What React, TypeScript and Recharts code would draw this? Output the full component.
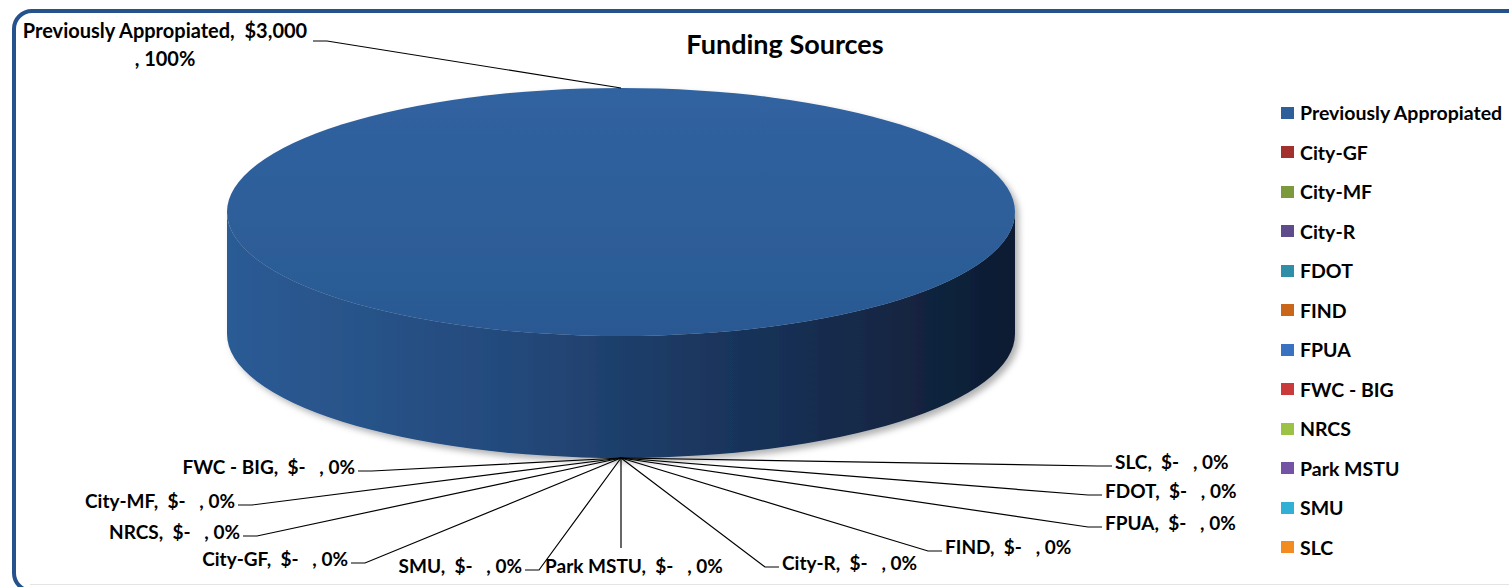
import React from "react";
import { Legend, Pie, PieChart } from "recharts";

// page has an 8px body margin by default; the chart fills the whole window
if (typeof document !== "undefined") document.body.style.margin = "0";

const sources = [
  "Previously Appropiated",
  "City-GF",
  "City-MF",
  "City-R",
  "FDOT",
  "FIND",
  "FPUA",
  "FWC - BIG",
  "NRCS",
  "Park MSTU",
  "SMU",
  "SLC",
];
const amounts = [3000, 0, 0, 0, 0, 0, 0, 0, 0, 0, 0, 0];
const sliceColors = [
  "#2f5f9a",
  "#a3302d",
  "#7b9a3b",
  "#5f4a8c",
  "#2f8ea8",
  "#c9661a",
  "#3a72c2",
  "#c93a3a",
  "#9bc244",
  "#7453a4",
  "#2fb0d4",
  "#f28c22",
];

// Excel's auto label layout: text anchor + where the leader meets it
const labelSpots = [
  { tx: 165, ty: 30, anchor: "middle", lx: 313, ly: 41 },
  { tx: 348, ty: 558, anchor: "end", lx: 351, ly: 563 },
  { tx: 235, ty: 500, anchor: "end", lx: 238, ly: 505 },
  { tx: 782, ty: 562, anchor: "start", lx: 779, ly: 567 },
  { tx: 1105, ty: 490, anchor: "start", lx: 1102, ly: 495 },
  { tx: 945, ty: 546, anchor: "start", lx: 942, ly: 551 },
  { tx: 1105, ty: 522, anchor: "start", lx: 1102, ly: 527 },
  { tx: 355, ty: 466, anchor: "end", lx: 358, ly: 471 },
  { tx: 240, ty: 531, anchor: "end", lx: 243, ly: 536 },
  { tx: 634, ty: 565, anchor: "middle", lx: 621, ly: 548 },
  { tx: 522, ty: 565, anchor: "end", lx: 525, ly: 570 },
  { tx: 1115, ty: 461, anchor: "start", lx: 1112, ly: 466 },
];

const data = sources.map((name, i) => ({ name, value: amounts[i], fill: sliceColors[i] }));

const W = 1509;
const H = 587;
const CX = 621;
const CY = 212;
const RADIUS = 394;
const TILT = 124 / 394; // vertical squash of the 3-D view
const DEPTH = 122; // thickness of the disc
const FONT = "Lato, 'Open Sans', sans-serif";

const money = (v: number) => (v === 0 ? "$-   " : "$" + v.toLocaleString("en-US"));

function Slice3D(props: any) {
  const { cx, cy, outerRadius: r, startAngle, endAngle, fill } = props;
  const span = Math.abs(endAngle - startAngle);
  if (span < 0.01) return <g />;
  const ry = r * TILT;
  const defs = (
    <defs>
      <linearGradient id="sideShade" x1="0" y1="0" x2="1" y2="0">
        <stop offset="0%" stopColor="#2c5b95" />
        <stop offset="35%" stopColor="#244a7c" />
        <stop offset="65%" stopColor="#19335a" />
        <stop offset="100%" stopColor="#0e1c31" />
      </linearGradient>
      <linearGradient id="topShade" x1="0" y1="0" x2="0" y2="1">
        <stop offset="0%" stopColor="#3063a1" />
        <stop offset="100%" stopColor="#2b5992" />
      </linearGradient>
      <filter id="pieShadow" x="-10%" y="-10%" width="125%" height="130%">
        <feDropShadow dx="4" dy="4" stdDeviation="3" floodColor="#000" floodOpacity="0.3" />
      </filter>
    </defs>
  );
  if (span >= 359.99) {
    const side =
      `M ${cx - r} ${cy} A ${r} ${ry} 0 0 0 ${cx + r} ${cy} ` +
      `L ${cx + r} ${cy + DEPTH} A ${r} ${ry} 0 0 1 ${cx - r} ${cy + DEPTH} Z`;
    return (
      <g>
        {defs}
        <g filter="url(#pieShadow)">
          <path d={side} fill="url(#sideShade)" />
          <ellipse cx={cx} cy={cy} rx={r} ry={ry} fill="url(#topShade)" />
        </g>
      </g>
    );
  }
  // a partial wedge: flat top face only
  const pt = (a: number) => {
    const rad = (a * Math.PI) / 180;
    return [cx + r * Math.cos(rad), cy - ry * Math.sin(rad)];
  };
  const [x1, y1] = pt(startAngle);
  const [x2, y2] = pt(endAngle);
  const large = span > 180 ? 1 : 0;
  const sweep = endAngle < startAngle ? 1 : 0;
  return (
    <path
      d={`M ${cx} ${cy} L ${x1} ${y1} A ${r} ${ry} 0 ${large} ${sweep} ${x2} ${y2} Z`}
      fill={fill}
    />
  );
}

function SliceLabel(props: any) {
  const { cx, cy, outerRadius: r, midAngle, index, name, value, percent } = props;
  const spot = labelSpots[index];
  if (!spot) return null;
  const rad = (midAngle * Math.PI) / 180;
  const px = cx + r * Math.cos(rad);
  let py = cy - r * TILT * Math.sin(rad);
  if (Math.sin(rad) < 0) py += DEPTH; // front of the disc: leader starts at the bottom rim
  const pct = `${Math.round((percent ?? 0) * 100)}%`;
  let pts = `${px},${py} ${spot.lx},${spot.ly}`;
  if (spot.anchor !== "middle" || index === 0) {
    const dir = px > spot.lx ? 1 : -1;
    pts = `${px},${py} ${spot.lx + 14 * dir},${spot.ly} ${spot.lx},${spot.ly}`;
  }
  const textStyle = {
    fontFamily: FONT,
    fontWeight: 700,
    fontSize: 19,
    fill: "#000",
    whiteSpace: "pre" as const,
  };
  return (
    <g>
      <polyline points={pts} fill="none" stroke="#000" strokeWidth={1.2} />
      {index === 0 ? (
        <text
          x={spot.tx}
          y={spot.ty}
          textAnchor="middle"
          dominantBaseline="central"
          style={{ ...textStyle, fontSize: 20 }}
        >
          <tspan x={spot.tx} dy={0}>{`${name},  ${money(value)}`}</tspan>
          <tspan x={spot.tx} dy={28}>{`, ${pct}`}</tspan>
        </text>
      ) : (
        <text
          x={spot.tx}
          y={spot.ty}
          textAnchor={spot.anchor as any}
          dominantBaseline="central"
          style={textStyle}
        >
          {`${name},  ${money(value)}, ${pct}`}
        </text>
      )}
    </g>
  );
}

function LegendList({ payload }: any) {
  const items = (payload ?? []) as any[];
  // keep the data order (the library sorts legend items by name)
  const rows = sources.map((name, i) => {
    const hit = items.find((it) => it.value === name);
    return { name, color: hit?.color ?? sliceColors[i] };
  });
  return (
    <div style={{ fontFamily: FONT, fontWeight: 700, fontSize: 19.5, color: "#000" }}>
      {rows.map((it, i) => (
        <div
          key={i}
          style={{ height: 39.5, display: "flex", alignItems: "center", whiteSpace: "nowrap" }}
        >
          <span
            style={{
              display: "inline-block",
              width: 13,
              height: 12,
              marginRight: 6,
              background: it.color,
            }}
          />
          <span>{it.name}</span>
        </div>
      ))}
    </div>
  );
}

export default function App() {
  return (
    <div
      style={{
        position: "relative",
        width: W,
        height: H,
        overflow: "hidden",
        background: "#fff",
      }}
    >
      <div
        style={{
          position: "absolute",
          left: 12,
          top: 9,
          width: W + 40,
          height: 584,
          border: "4px solid #26528c",
          borderRadius: 20,
          boxSizing: "border-box",
        }}
      />
      <div
        style={{
          position: "absolute",
          left: 30,
          right: 0,
          top: 584,
          height: 1,
          background: "#e4e4e4",
        }}
      />
      <div
        style={{
          position: "absolute",
          left: 0,
          width: 1570,
          top: 27,
          textAlign: "center",
          fontFamily: FONT,
          fontWeight: 700,
          fontSize: 27,
          color: "#000",
          zIndex: 2,
        }}
      >
        Funding Sources
      </div>
      <PieChart width={W} height={H} margin={{ top: 0, right: 0, bottom: 0, left: 0 }}>
        <Pie
          data={data}
          dataKey="value"
          nameKey="name"
          cx={CX}
          cy={CY}
          outerRadius={RADIUS}
          startAngle={-90}
          endAngle={-450}
          stroke="none"
          labelLine={false}
          label={SliceLabel}
          {...({ shape: Slice3D } as any)}
          activeShape={Slice3D}
          inactiveShape={Slice3D}
          isAnimationActive={false}
        />
        <Legend
          layout="vertical"
          align="center"
          verticalAlign="middle"
          content={<LegendList />}
          wrapperStyle={{ left: 1281, top: 93, width: 260 }}
        />
      </PieChart>
    </div>
  );
}
